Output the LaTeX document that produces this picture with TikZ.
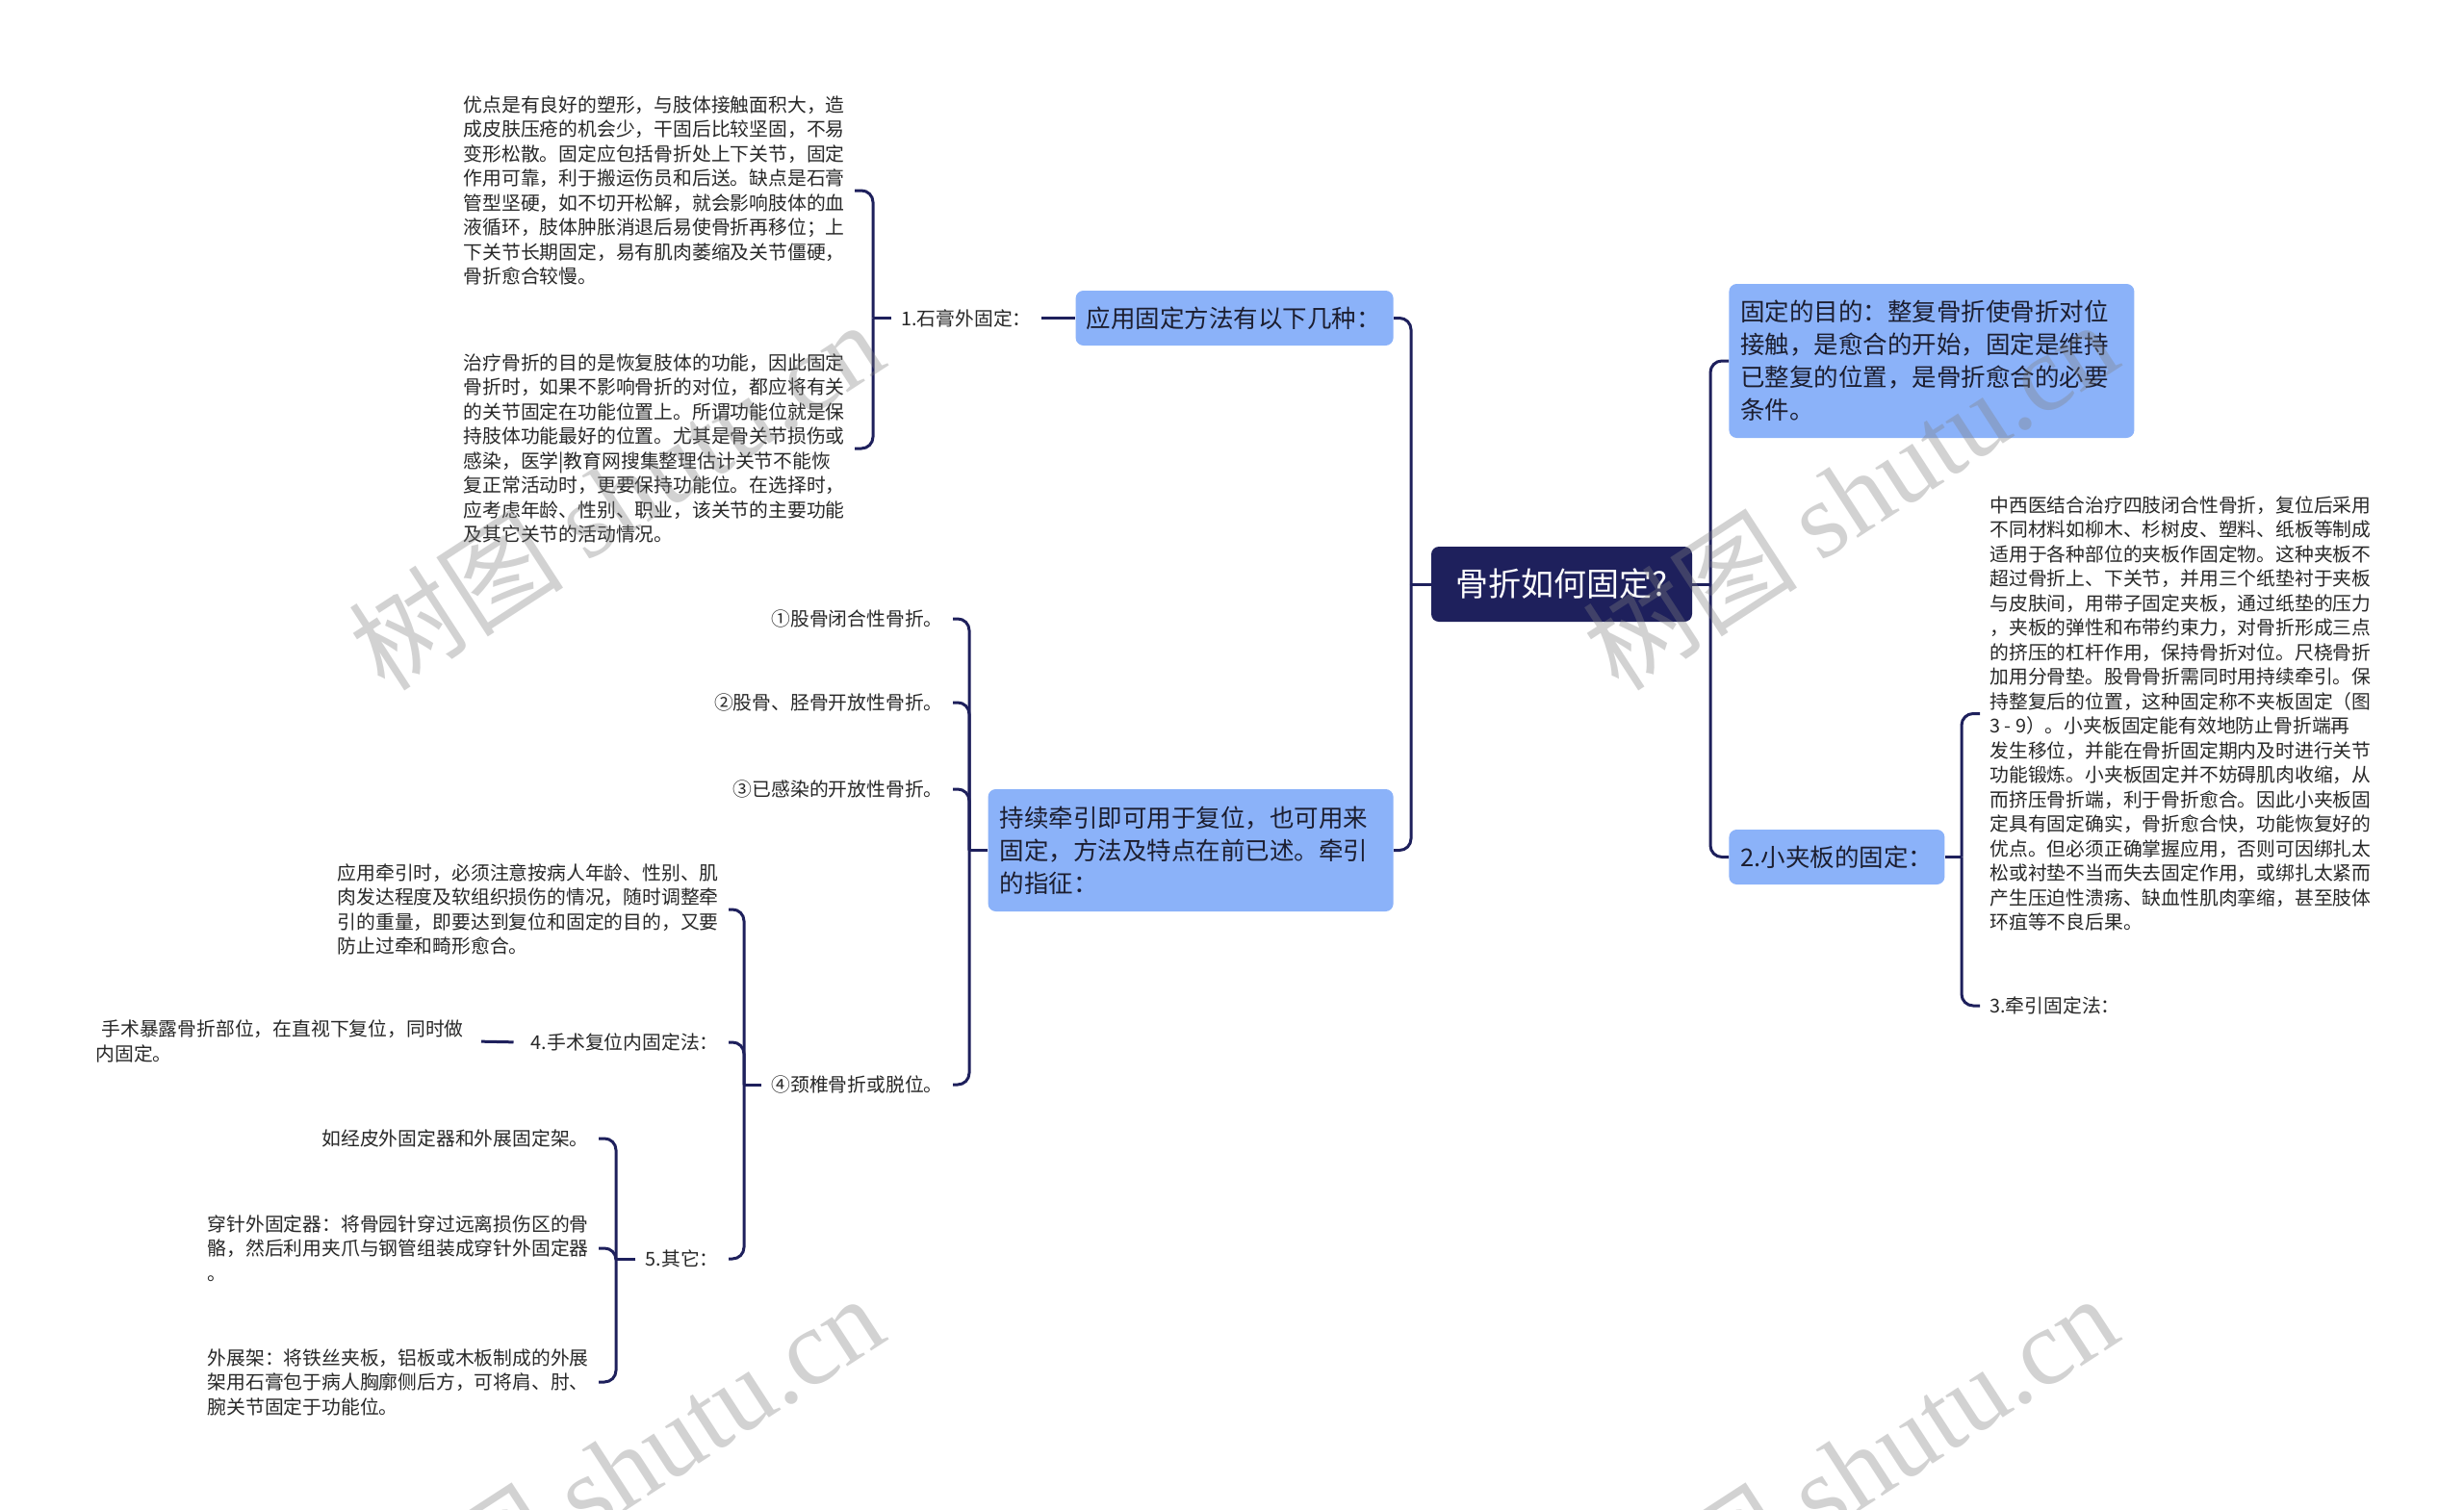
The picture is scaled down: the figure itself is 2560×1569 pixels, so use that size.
\documentclass[tikz,border=0pt]{standalone}
\usepackage{fontspec}
\setmainfont{Noto Sans CJK SC}
\newfontfamily\wmlatin{Liberation Serif}
\definecolor{navy}{RGB}{30,32,92}
\definecolor{blueA}{RGB}{139,178,249}
\definecolor{txt}{RGB}{40,40,40}
\definecolor{txtb}{RGB}{28,30,48}
\tikzset{
  link/.style={draw=navy, line width=1.5pt, rounded corners=6pt},
  sm/.style={inner xsep=5pt, inner ysep=0pt, align=left, text=txt,
    font=\fontsize{9.9pt}{12.75pt}\selectfont},
  bluebox/.style={fill=blueA, rounded corners=4pt, inner xsep=6pt, inner ysep=0pt,
    align=left, text=txtb, font=\fontsize{12.75pt}{17pt}\selectfont},
  rootbox/.style={fill=navy, rounded corners=4pt, inner sep=0pt, text=white,
    font=\fontsize{17pt}{20pt}\selectfont},
  wmark/.style={text=gray, opacity=0.35, rotate=33, inner sep=0pt,
    font=\fontsize{56pt}{56pt}\selectfont}
}
\begin{document}
\begin{tikzpicture}[x=0.5pt,y=-0.5pt]
\useasboundingbox (0,0) rectangle (2560,1569);
\fill[white] (0,0) rectangle (2560,1569);

% root
\node[rootbox, minimum width=135.5pt, minimum height=39pt] (C) at (1622.5,607) {骨折如何固定?};

% junctions
\coordinate (jR) at (1777,607);
\coordinate (jL) at (1466,607);
\coordinate (j1) at (907,330.5);
\coordinate (jL2) at (1007,883.5);
\coordinate (jc4) at (773,1127);
\coordinate (jd3) at (640,1308);
\coordinate (jR2) at (2038,890.5);

% right side
\node[bluebox, anchor=west, text width=198.5pt, minimum height=80pt] (R1) at (1796,375)
 {固定的目的：整复骨折使骨折对位\\接触，是愈合的开始，固定是维持\\已整复的位置，是骨折愈合的必要\\条件。};
\node[bluebox, anchor=west, text width=100pt, minimum height=28.5pt] (R2) at (1796,890.5)
 {2.小夹板的固定：};
\node[sm, anchor=west] (RT) at (2057,741.5)
 {中西医结合治疗四肢闭合性骨折，复位后采用\\
不同材料如柳木、杉树皮、塑料、纸板等制成\\
适用于各种部位的夹板作固定物。这种夹板不\\
超过骨折上、下关节，并用三个纸垫衬于夹板\\
与皮肤间，用带子固定夹板，通过纸垫的压力\\
，夹板的弹性和布带约束力，对骨折形成三点\\
的挤压的杠杆作用，保持骨折对位。尺桡骨折\\
加用分骨垫。股骨骨折需同时用持续牵引。保\\
持整复后的位置，这种固定称不夹板固定（图\\
3 - 9）。小夹板固定能有效地防止骨折端再\\
发生移位，并能在骨折固定期内及时进行关节\\
功能锻炼。小夹板固定并不妨碍肌肉收缩，从\\
而挤压骨折端，利于骨折愈合。因此小夹板固\\
定具有固定确实，骨折愈合快，功能恢复好的\\
优点。但必须正确掌握应用，否则可因绑扎太\\
松或衬垫不当而失去固定作用，或绑扎太紧而\\
产生压迫性溃疡、缺血性肌肉挛缩，甚至肢体\\
环疽等不良后果。};
\node[sm, anchor=west] (RS3) at (2057,1045) {3.牵引固定法：};

% left side
\node[bluebox, anchor=east, text width=154pt, inner xsep=5.5pt, minimum height=28.5pt] (L1) at (1448,330.5)
 {应用固定方法有以下几种：};
\node[bluebox, anchor=east, text width=198.5pt, minimum height=63.5pt] (L2) at (1448,883.5)
 {持续牵引即可用于复位，也可用来\\固定，方法及特点在前已述。牵引\\的指征：};

\node[sm, anchor=west] (s1) at (926,330.5) {1.石膏外固定：};
\node[sm, anchor=east] (T1) at (888,198)
 {优点是有良好的塑形，与肢体接触面积大，造\\
成皮肤压疮的机会少，干固后比较坚固，不易\\
变形松散。固定应包括骨折处上下关节，固定\\
作用可靠，利于搬运伤员和后送。缺点是石膏\\
管型坚硬，如不切开松解，就会影响肢体的血\\
液循环，肢体肿胀消退后易使骨折再移位；上\\
下关节长期固定，易有肌肉萎缩及关节僵硬，\\
骨折愈合较慢。};
\node[sm, anchor=east] (T2) at (888,466)
 {治疗骨折的目的是恢复肢体的功能，因此固定\\
骨折时，如果不影响骨折的对位，都应将有关\\
的关节固定在功能位置上。所谓功能位就是保\\
持肢体功能最好的位置。尤其是骨关节损伤或\\
感染，医学|教育网搜集整理估计关节不能恢\\
复正常活动时，更要保持功能位。在选择时，\\
应考虑年龄、性别、职业，该关节的主要功能\\
及其它关节的活动情况。};

\node[sm, anchor=east] (c1) at (990,643) {①股骨闭合性骨折。};
\node[sm, anchor=east] (c2) at (990,730) {②股骨、胫骨开放性骨折。};
\node[sm, anchor=east] (c3) at (990,820) {③已感染的开放性骨折。};
\node[sm, anchor=east] (c4) at (990,1127) {④颈椎骨折或脱位。};

\node[sm, anchor=east] (d1) at (757,945)
 {应用牵引时，必须注意按病人年龄、性别、肌\\
肉发达程度及软组织损伤的情况，随时调整牵\\
引的重量，即要达到复位和固定的目的，又要\\
防止过牵和畸形愈合。};
\node[sm, anchor=east] (d2) at (757,1083) {4.手术复位内固定法：};
\node[sm, anchor=east] (d3) at (757,1308) {5.其它：};
\node[sm, anchor=east] (e1) at (492,1082)
 {\hspace*{3pt}手术暴露骨折部位，在直视下复位，同时做\\内固定。};

\node[sm, anchor=east] (f1) at (622,1183) {如经皮外固定器和外展固定架。};
\node[sm, anchor=east] (f2) at (622,1297)
 {穿针外固定器：将骨园针穿过远离损伤区的骨\\
骼，然后利用夹爪与钢管组装成穿针外固定器\\
。};
\node[sm, anchor=east] (f3) at (622,1436)
 {外展架：将铁丝夹板，铝板或木板制成的外展\\
架用石膏包于病人胸廓侧后方，可将肩、肘、\\
腕关节固定于功能位。};

% connectors
\draw[link] (C.east) -- (jR);
\draw[link] (jR) |- (R1.west);
\draw[link] (jR) |- (R2.west);
\draw[link] (R2.east) -- (jR2);
\draw[link] (jR2) |- (RT.west);
\draw[link] (jR2) |- (RS3.west);

\draw[link] (C.west) -- (jL);
\draw[link] (jL) |- (L1.east);
\draw[link] (jL) |- (L2.east);

\draw[link] (L1.west) -- (s1.east);
\draw[link] (s1.west) -- (j1);
\draw[link] (j1) |- (T1.east);
\draw[link] (j1) |- (T2.east);

\draw[link] (L2.west) -- (jL2);
\draw[link] (jL2) |- (c1.east);
\draw[link] (jL2) |- (c2.east);
\draw[link] (jL2) |- (c3.east);
\draw[link] (jL2) |- (c4.east);

\draw[link] (c4.west) -- (jc4);
\draw[link] (jc4) |- (d1.east);
\draw[link] (jc4) |- (d2.east);
\draw[link] (jc4) |- (d3.east);
\draw[link, shorten <=4pt, shorten >=4pt] (d2.west) -- (e1.east);

\draw[link] (d3.west) -- (jd3);
\draw[link] (jd3) |- (f1.east);
\draw[link] (jd3) |- (f2.east);
\draw[link] (jd3) |- (f3.east);

% watermarks
\node[wmark] (wm1) at (640,514) {树图 {\wmlatin shutu.cn}};
\node[wmark] (wm2) at (1922,514) {树图 {\wmlatin shutu.cn}};
\node[wmark] (wm3) at (640,1526) {树图 {\wmlatin shutu.cn}};
\node[wmark] (wm4) at (1922,1526) {树图 {\wmlatin shutu.cn}};
\end{tikzpicture}
\end{document}
